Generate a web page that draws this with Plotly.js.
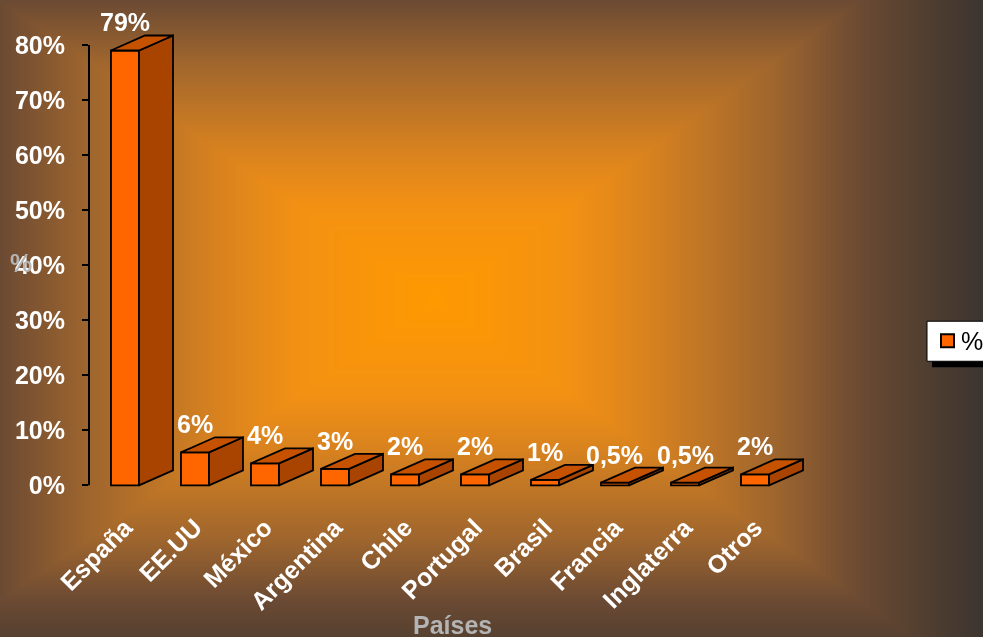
<!DOCTYPE html>
<html>
<head>
<meta charset="utf-8">
<script src="https://cdn.plot.ly/plotly-3.0.1.min.js"></script>
<style>
  html, body { margin: 0; padding: 0; width: 983px; height: 637px; overflow: hidden; }
  #bg { position: absolute; left: 0; top: 0; z-index: 0; }
  #chart { position: absolute; left: 0; top: 0; width: 983px; height: 637px; z-index: 1; }
</style>
</head>
<body>
<canvas id="bg" width="983" height="637"></canvas>
<div id="chart"></div>
<script>
// ---- data ----
const categories = ['España', 'EE.UU', 'México', 'Argentina', 'Chile', 'Portugal', 'Brasil', 'Francia', 'Inglaterra', 'Otros'];
const values = [79, 6, 4, 3, 2, 2, 1, 0.5, 0.5, 2];
const valueLabels = ['79%', '6%', '4%', '3%', '2%', '2%', '1%', '0,5%', '0,5%', '2%'];
const yTickVals = [0, 10, 20, 30, 40, 50, 60, 70, 80];
const yTickText = ['0%', '10%', '20%', '30%', '40%', '50%', '60%', '70%', '80%'];
const seriesName = '%';

// ---- background: rectangular path gradient ----
(function () {
  const c = document.getElementById('bg');
  const ctx = c.getContext('2d');
  const W = c.width, H = c.height;
  const img = ctx.createImageData(W, H);
  const cx = 435, cy = 300, Lx = 435, Rx = 425, Ty = 300, By = 300;
  const stops = [
    [0.00, 255, 153, 0],
    [0.31, 243, 145, 19],
    [0.50, 216, 130, 31],
    [0.80, 158, 101, 46],
    [1.00, 107, 74, 51],
    [1.13, 84, 64, 48],
    [1.30, 58, 52, 48]
  ];
  function col(t) {
    if (t <= stops[0][0]) return stops[0].slice(1);
    for (let k = 1; k < stops.length; k++) {
      if (t <= stops[k][0]) {
        const a = stops[k - 1], b = stops[k];
        const f = (t - a[0]) / (b[0] - a[0]);
        return [a[1] + (b[1] - a[1]) * f, a[2] + (b[2] - a[2]) * f, a[3] + (b[3] - a[3]) * f];
      }
    }
    return stops[stops.length - 1].slice(1);
  }
  for (let y = 0; y < H; y++) {
    const ty = y < cy ? (cy - y) / Ty : (y - cy) / By;
    for (let x = 0; x < W; x++) {
      const tx = x < cx ? (cx - x) / Lx : (x - cx) / Rx;
      const cc = col(Math.max(tx, ty));
      const o = (y * W + x) * 4;
      img.data[o] = cc[0]; img.data[o + 1] = cc[1]; img.data[o + 2] = cc[2]; img.data[o + 3] = 255;
    }
  }
  ctx.putImageData(img, 0, 0);
})();

// ---- layout geometry ----
const L = 89, PW = 771, T = 23, PH = 463.65;
const B = 637 - T - PH;
const bottomPx = T + PH;
const px2x = X => (X - L) / PW;
const px2y = Y => (bottomPx - Y) / PH;

const halfW = 0.2;      // half front width (category units)
const depthX = 0.486;   // 3D depth offset in x
const depthY = 2.73;    // 3D depth offset in y

const FRONT = '#FF6600', SIDE = '#A84400', TOP = '#C65200';
const xIdx = categories.map((_, i) => i);

const traces = [];
traces.push({
  type: 'bar', x: xIdx, y: values, width: 2 * halfW, name: seriesName,
  marker: { color: FRONT, line: { color: '#000', width: 1.8 } },
  hoverinfo: 'skip', showlegend: false
});
values.forEach((v, i) => {
  const xr = i + halfW, xl = i - halfW;
  traces.push({
    type: 'scatter', mode: 'lines', fill: 'toself', fillcolor: SIDE,
    x: [xr, xr + depthX, xr + depthX, xr, xr],
    y: [0, depthY, v + depthY, v, 0],
    line: { color: '#000', width: 1.8 }, hoverinfo: 'skip', showlegend: false
  });
  traces.push({
    type: 'scatter', mode: 'lines', fill: 'toself', fillcolor: TOP,
    x: [xl, xl + depthX, xr + depthX, xr, xl],
    y: [v, v + depthY, v + depthY, v, v],
    line: { color: '#000', width: 1.8 }, hoverinfo: 'skip', showlegend: false
  });
});

const FONT = 'Liberation Sans, Arial, sans-serif';
const FS = 25;
const annotations = values.map((v, i) => ({
  x: i, y: v + depthY, xref: 'x', yref: 'y', text: valueLabels[i], showarrow: false,
  yanchor: 'bottom', xanchor: 'center', yshift: -3,
  font: { family: FONT, size: FS, color: '#FFFFFF', weight: 'bold' }
}));
annotations.push({
  x: px2x(452), y: px2y(625), xref: 'paper', yref: 'paper', text: 'Países', showarrow: false,
  xanchor: 'center', yanchor: 'middle',
  font: { family: FONT, size: FS, color: '#B4B4B4', weight: 'bold' }
});
annotations.push({
  x: px2x(21), y: px2y(263), xref: 'paper', yref: 'paper', text: '%', showarrow: false,
  xanchor: 'center', yanchor: 'middle',
  font: { family: FONT, size: FS, color: '#B4B4B4', weight: 'bold' }
});
// legend text
annotations.push({
  x: px2x(959), y: px2y(341), xref: 'paper', yref: 'paper', text: seriesName, showarrow: false,
  xanchor: 'left', yanchor: 'middle',
  font: { family: FONT, size: 25, color: '#000000' }
});

const layout = {
  width: 983, height: 637,
  margin: { l: L, r: 983 - L - PW, t: T, b: B, pad: 0, autoexpand: false },
  paper_bgcolor: 'rgba(0,0,0,0)', plot_bgcolor: 'rgba(0,0,0,0)',
  showlegend: false, hovermode: false,
  xaxis: {
    range: [-0.514, 10.5], tickmode: 'array', tickvals: xIdx, ticktext: categories,
    tickangle: -45, showgrid: false, zeroline: false, showline: false, ticks: '',
    ticklabelstandoff: 20, automargin: false,
    tickfont: { family: FONT, size: FS, color: '#FFFFFF', weight: 'bold' }
  },
  yaxis: {
    range: [-0.3, 84], tickmode: 'array', tickvals: yTickVals, ticktext: yTickText,
    showgrid: false, zeroline: false, showline: false, automargin: false,
    ticks: 'outside', ticklen: 6, tickwidth: 2, tickcolor: '#000',
    ticklabelstandoff: 12,
    tickfont: { family: FONT, size: FS, color: '#FFFFFF', weight: 'bold' }
  },
  shapes: [
    { type: 'line', xref: 'paper', yref: 'y', x0: 0, x1: 0, y0: 0, y1: 80,
      line: { color: '#000', width: 2 } },
    // legend shadow
    { type: 'rect', xref: 'paper', yref: 'paper', layer: 'above',
      x0: px2x(932), x1: px2x(1000), y0: px2y(367), y1: px2y(327),
      fillcolor: '#000', line: { width: 0 } },
    // legend box
    { type: 'rect', xref: 'paper', yref: 'paper', layer: 'above',
      x0: px2x(927), x1: px2x(1000), y0: px2y(361), y1: px2y(321),
      fillcolor: '#FFFFFF', line: { color: '#000', width: 1 } },
    // legend symbol
    { type: 'rect', xref: 'paper', yref: 'paper', layer: 'above',
      x0: px2x(941), x1: px2x(954), y0: px2y(347), y1: px2y(334),
      fillcolor: FRONT, line: { color: '#000', width: 2 } }
  ],
  annotations: annotations
};

Plotly.newPlot('chart', traces, layout, { displayModeBar: false, staticPlot: true });
</script>
</body>
</html>
